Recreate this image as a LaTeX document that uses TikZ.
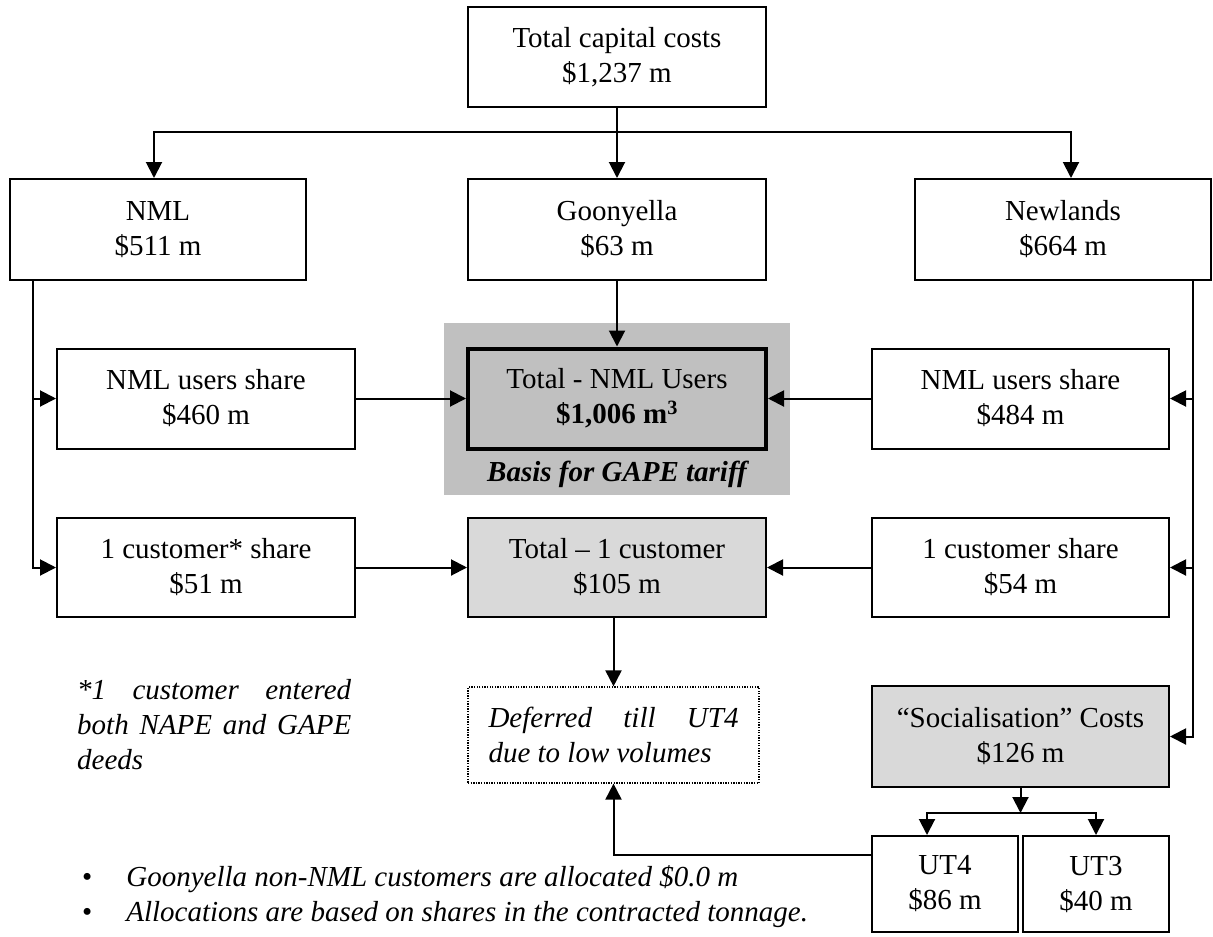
\documentclass[tikz,border=0pt]{standalone}
\usepackage{fontspec}
\setmainfont{Liberation Serif}
\usetikzlibrary{arrows.meta,calc}
\definecolor{gbg}{RGB}{192,192,192}
\definecolor{lgray}{RGB}{217,217,217}
\begin{document}
\begin{tikzpicture}[x=1pt,y=-1pt,
  box/.style={draw,line width=2pt,rectangle,minimum width=298pt,minimum height=100pt,inner sep=0pt,align=center,font=\fontsize{29}{35}\selectfont},
  arr/.style={line width=2pt,-{Triangle[length=16pt,width=16pt]}},
  ln/.style={line width=2pt},
  txt/.style={inner sep=0pt,font=\fontsize{29}{35}\selectfont}]
\useasboundingbox (0,0) rectangle (1213,937);
% background of GAPE basis
\node[fill=gbg,minimum width=346pt,minimum height=172pt,inner sep=0pt] (gapebg) at (617,409) {};
\node[txt,font=\fontsize{29}{35}\selectfont\bfseries\itshape] (basis) at (617,474) {Basis for GAPE tariff};
% boxes
\node[box] (top) at (617,57) {Total capital costs\\\$1,237 m};
\node[box,minimum width=296pt,minimum height=101pt] (nml) at (158,229.5) {NML\\\$511 m};
\node[box,minimum height=101pt] (goon) at (617,229.5) {Goonyella\\\$63 m};
\node[box,minimum width=296pt,minimum height=101pt] (newl) at (1063,229.5) {Newlands\\\$664 m};
\node[box] (nuL) at (206,398.5) {NML users share\\\$460 m};
\node[box,line width=4pt] (totN) at (617,398.5) {Total - NML Users\\\textbf{\$1,006 m\textsuperscript{3}}};
\node[box,minimum width=297pt] (nuR) at (1020.5,398.5) {NML users share\\\$484 m};
\node[box,minimum height=99pt] (c1L) at (206,567.5) {1 customer* share\\\$51 m};
\node[box,minimum height=99pt,fill=lgray] (t1) at (617,567.5) {Total – 1 customer\\\$105 m};
\node[box,minimum width=297pt,minimum height=99pt] (c1R) at (1020.5,567.5) {1 customer share\\\$54 m};
\node[box,minimum width=291pt,minimum height=96pt,line width=1.2pt,dash pattern=on 1.3pt off 1.3pt,font=\fontsize{29}{35}\selectfont\itshape] (def) at (613.5,735) {\makebox[250pt][s]{Deferred till UT4}\\\makebox[250pt][l]{due to low volumes}};
\node[box,minimum width=297pt,minimum height=101pt,fill=lgray] (soc) at (1020.5,736.5) {“Socialisation” Costs\\\$126 m};
\node[box,minimum width=146pt,minimum height=96pt] (ut4) at (945,884) {UT4\\\$86 m};
\node[box,minimum width=146pt,minimum height=96pt] (ut3) at (1096,884) {UT3\\\$40 m};
% notes
\node[txt,anchor=north west,align=left,font=\fontsize{29}{35}\selectfont\itshape] (note) at (77,679) {\makebox[274pt][s]{*1 customer entered}\\\makebox[274pt][s]{both NAPE and GAPE}\\deeds};
\node[txt,anchor=north west,align=left] (bul) at (82,862) {\begin{tabular}{@{}l@{\hspace{34pt}}l@{}}•&\itshape Goonyella non-NML customers are allocated \$0.0 m\\•&\itshape Allocations are based on shares in the contracted tonnage.\end{tabular}};
% connectors
\coordinate (hb) at (617,132);
\draw[ln] (top.south) -- (hb);
\draw[arr] (hb) -| ($(nml.north)+(-4,0)$);
\draw[arr] (hb) -- (goon.north);
\draw[arr] (hb) -| ($(newl.north)+(8,0)$);
\draw[arr] (goon.south) -- (totN.north);
\coordinate (lt) at (33,280);
\draw[arr] (lt) |- (nuL.west);
\draw[arr] (lt) |- (c1L.west);
\coordinate (rt) at (1193,280);
\draw[arr] (rt) |- (nuR.east);
\draw[arr] (rt) |- (c1R.east);
\draw[arr] (rt) |- (soc.east);
\draw[arr] (nuL.east) -- (totN.west);
\draw[arr] (nuR.west) -- (totN.east);
\draw[arr] (c1L.east) -- (t1.west);
\draw[arr] (c1R.west) -- (t1.east);
\draw[arr] (def.north |- t1.south) -- (def.north);
\coordinate (sb) at (1020.5,813);
\draw[arr] (soc.south) -- (sb);
\draw[arr] (sb) -| ($(ut4.north)+(-18,0)$);
\draw[arr] (sb) -| (ut3.north);
\coordinate (u4) at (872,855);
\draw[arr] (u4) -| (def.south);
\end{tikzpicture}
\end{document}
